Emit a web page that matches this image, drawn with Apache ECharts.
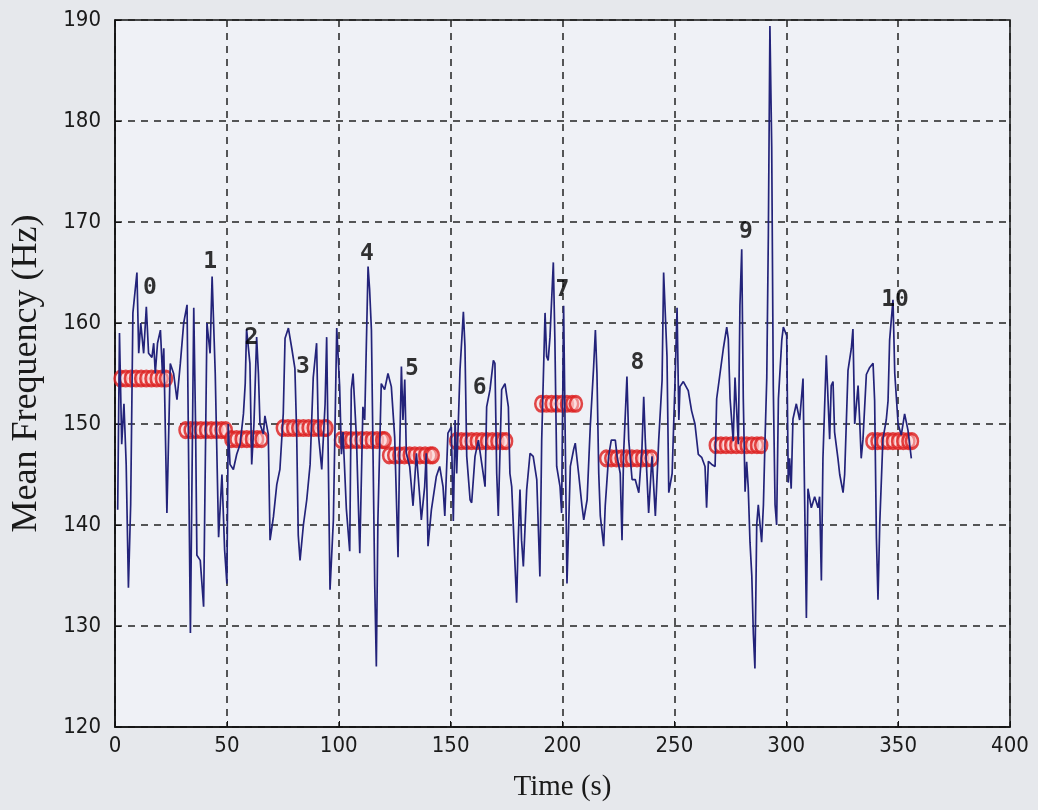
<!DOCTYPE html>
<html>
<head>
<meta charset="utf-8">
<script src="https://cdn.jsdelivr.net/npm/echarts@6/dist/echarts.min.js"></script>
<style>
html,body{margin:0;padding:0;background:#e6e8ec;}
#chart{width:1038px;height:810px;}
</style>
</head>
<body>
<div id="chart"></div>
<script>
// Time (s) and mean frequency (Hz) of the signal
const times = [1.2,2,3,4,5,6,7,8,9.8,10.6,11.5,12.8,14,15,16.5,17.3,18,19,20.3,21.2,21.8,23.2,24.7,26.2,27.7,29.2,30.7,32.2,33.7,35.2,36,36.6,38.1,39.6,41.1,42.5,43.4,44.8,46.3,47.8,49,50,
50.6,51.4,52.9,54.4,55.9,57.4,58.2,58.8,60.3,61.1,62.1,63.3,64.1,64.8,66.3,67,68.5,69.3,70.8,72.3,73.7,75.2,76,77.5,79,80.4,81.2,81.9,82.7,84.2,85.7,87.2,88.6,90.1,90.9,92.4,93.9,94.6,96.1,97.6,99.1,
100.4,101.2,101.9,103.4,104.9,105.6,106.4,107.9,109.4,110.8,111.6,113.1,113.8,114.6,116.1,116.8,117.5,119,120.5,122,123.5,125,126.5,127.2,128,128.7,129.5,130.2,131.7,133.2,134.7,136.2,136.9,138.4,139.1,139.9,141.4,143.6,145.1,146.6,147.4,148.8,150.3,
151.2,152,152.7,154.2,155.7,156.4,157.2,158.7,159.4,160.9,162.4,163.9,165.4,166.1,167.6,169.1,169.8,170.6,171.3,172.8,174.3,175.8,176.5,177.3,178.8,179.5,180.2,181,181.7,182.5,184,185.5,186.9,188.5,189.9,190.7,192.2,192.9,193.6,194.4,195.9,196.6,197.4,198.9,199.6,
200.5,201.2,202,203.5,205,205.7,207.2,208.7,209.5,211,212.4,213.9,214.7,215.4,216.2,216.9,218.4,219.1,220.6,221.8,223.6,224.4,225.8,226.6,227.3,228.8,229.6,231.1,232.5,234.1,235.5,236.3,237,238.5,240,241.5,243,244.5,245.2,246.7,247.5,249,250.4,
251.2,252,252.5,254,256.2,257.7,259.2,260.7,262.2,263.7,264.4,265.2,266.7,268.2,268.9,270.4,271.9,273.4,274.1,274.9,276.3,277.1,278.6,279.3,280.1,280.8,281.6,282.3,283,283.8,284.6,285.3,286,286.8,287.5,288.3,289,289.8,290.5,291.3,292,292.7,293.5,294.2,295,295.7,296.5,298,298.7,300.2,
300.9,301.5,302.2,303,304.5,306,307.5,308.2,309,309.7,311.2,312.7,314.2,314.9,315.7,316.4,317.9,318.7,319.4,320.1,320.9,321.6,323.1,323.9,325.4,326.1,327.6,329.1,329.8,330.6,332.1,332.8,333.5,334.3,335.8,337.3,338.8,339.5,340.3,341,341.8,343.2,344.7,345.5,346.2,347.7,348.5,350,351.4,352.9,354.4,355.9];
const freqs = [141.5,159,148,152,146,133.8,142,161,165,157,160,157,161.6,157,156.6,158,155,158,159.3,155,157.5,141.2,156,155,152.4,156,160,161.8,129.3,161.5,150,137,136.5,131.9,160,157,164.6,155,138.8,145,137.5,134.2,
150,146,145.5,147,148,151,154,159.4,156,146,150,158.6,155,150,149,150.8,149,138.5,140.8,144,145.5,151,158.5,159.5,157.5,155.5,149,139,136.5,140,142.5,146,154.6,158,149,145.5,152,158.6,133.6,140.5,159.5,
153.7,147,149.2,141.6,137.4,153.4,155,148.7,137.2,151.7,150.4,165.6,163.3,159.3,133.9,126,140.5,154,153.4,155,153.7,148.7,136.8,147.1,155.7,150.4,154.4,147.1,145.8,141.9,147.1,142.8,140.5,143.8,147.1,137.9,141.5,144.8,145.8,143.8,140.9,149.1,149.7,
140.4,150.4,145.1,155.4,161.1,157.7,146.8,142.5,142.2,146.8,148.4,146.1,143.8,151.7,153.4,156.3,156,145.1,140.9,153.4,154,151.7,145.1,143.8,135.9,132.3,138.5,143.5,138.5,135.9,143.5,147.1,146.8,144.5,134.9,148.4,161,156.7,156.3,158.6,166,158.3,145.8,143.8,141.2,
161.7,149,134.2,145.8,147.5,148.1,145.1,141.9,140.5,142.5,149.7,155.6,159.3,155,145.1,140.9,137.9,141.9,146.8,148.4,148.4,146.8,145.1,138.5,147,154.7,148.4,144.5,144.5,143.2,147.5,152.7,148.4,141.2,146.8,140.9,148.4,154.3,165,156.7,143.2,145.1,155,
161.5,150.4,153.7,154.2,153.3,151.3,150,147,146.7,145.8,141.7,146.3,146,145.8,152.5,155,157.5,159.6,158.4,152.5,148.3,154.6,148,161.7,167.3,152.5,143.3,146.25,143.75,138.3,135,129.2,125.8,140,142,140,138.3,142,148.3,154.6,168.75,189.4,177.5,153.75,142,140,152.5,158.3,159.6,158.75,
144.2,146.6,143.6,150.5,152,150.4,154.5,142.8,130.8,143.6,141.7,142.8,141.7,142.8,134.5,146.6,156.8,152.3,148.5,153.8,154.2,149.2,146.6,145,143.2,145,155.3,157.5,159.4,150,153.8,150.4,146.6,148.5,154.9,155.6,156,152.3,138.7,132.6,140.2,148.5,150.4,152.3,158.3,162.3,155,150,148.9,151,149.4,146.6];

// Segment means (red ring markers): marker times and level per segment
const segTimes = [
  [2.5,4.8,7.1,9.4,11.7,14,16.3,18.6,20.9,22.8],
  [31.5,33.8,36.1,38.4,40.7,43,45.3,47.6,49.5],
  [52,54.3,56.6,58.9,61.2,63.5,65.5],
  [75,77.3,79.6,81.9,84.2,86.5,88.8,91.1,93.4,94.5],
  [101,103.3,105.6,107.9,110.2,112.5,114.8,117.1,119.4,120.5],
  [122.5,124.8,127.1,129.4,131.7,134,136.3,138.6,140.9,142],
  [152.5,154.8,157.1,159.4,161.7,164,166.3,168.6,170.9,173.2,174.8],
  [190.5,192.8,195.1,197.4,199.7,202,204.3,206],
  [219.5,221.8,224.1,226.4,228.7,231,233.3,235.6,237.9,239.8],
  [268.5,270.8,273.1,275.4,277.7,280,282.3,284.6,286.9,288.8],
  [338.5,340.8,343.1,345.4,347.7,350,352.3,354.6,356.2]
];
const segLevels = [154.5,149.4,148.5,149.6,148.4,146.9,148.3,152.0,146.6,147.9,148.3];

// Segment number labels
const labelNames = ['0','1','2','3','4','5','6','7','8','9','10'];
const labelTimes = [15.6,42.5,61,84,112.6,132.7,163,200,233.5,282,348.6];
const labelFreqs = [163.5,166,158.5,155.6,166.8,155.4,153.6,163.3,156,169,162.3];

const xTicks = {min:0, max:400, interval:50};
const yTicks = {min:120, max:190, interval:10};

const lineData = times.map((t,i)=>[t, freqs[i]]);
const markerData = [];
segTimes.forEach((arr,k)=>arr.forEach(t=>markerData.push([t, segLevels[k]])));
const labelData = labelNames.map((n,i)=>({name:n, value:[labelTimes[i], labelFreqs[i]]}));

const tickFont = "'DejaVu Sans Condensed','Liberation Sans Narrow',sans-serif";
const serif = "'Liberation Serif','Times New Roman',serif";

const chart = echarts.init(document.getElementById('chart'));
chart.setOption({
  backgroundColor:'#e6e8ec',
  animation:false,
  grid:{left:115,right:28,top:20,bottom:83,show:true,backgroundColor:'#eff1f6',borderColor:'#111',borderWidth:1.5},
  xAxis:{type:'value',min:xTicks.min,max:xTicks.max,interval:xTicks.interval,
    name:'Time (s)',nameLocation:'middle',nameGap:46,
    nameTextStyle:{fontFamily:serif,fontSize:29,color:'#1a1a1a'},
    axisLine:{lineStyle:{color:'#111',width:1.5}},
    axisTick:{inside:true,length:6,lineStyle:{color:'#111'}},
    axisLabel:{fontFamily:tickFont,fontSize:22,color:'#1a1a1a',margin:8},
    splitLine:{show:true,lineStyle:{color:'#222',width:1.5,type:[7,6]}}},
  yAxis:{type:'value',min:yTicks.min,max:yTicks.max,interval:yTicks.interval,
    name:'Mean Frequency (Hz)',nameLocation:'middle',nameGap:70,
    nameTextStyle:{fontFamily:serif,fontSize:36,color:'#1a1a1a'},
    axisLine:{lineStyle:{color:'#111',width:1.5}},
    axisTick:{inside:true,length:6,lineStyle:{color:'#111'}},
    axisLabel:{fontFamily:tickFont,fontSize:22,color:'#1a1a1a',margin:14},
    splitLine:{show:true,lineStyle:{color:'#222',width:1.5,type:[7,6]}}},
  series:[
    {type:'scatter',data:markerData,symbol:'circle',symbolSize:[12,15],z:2,
      itemStyle:{color:'rgba(255,215,215,0.6)',borderColor:'#dc1c1c',borderWidth:2.8}},
    {type:'line',data:lineData,symbol:'none',z:3,
      lineStyle:{color:'#23237a',width:1.7}},
    {type:'scatter',data:labelData,symbolSize:0,z:4,
      label:{show:true,position:'inside',formatter:'{b}',fontFamily:"'DejaVu Sans Mono',monospace",fontWeight:'bold',fontSize:23,color:'#000'}}
  ]
});
</script>
</body>
</html>
